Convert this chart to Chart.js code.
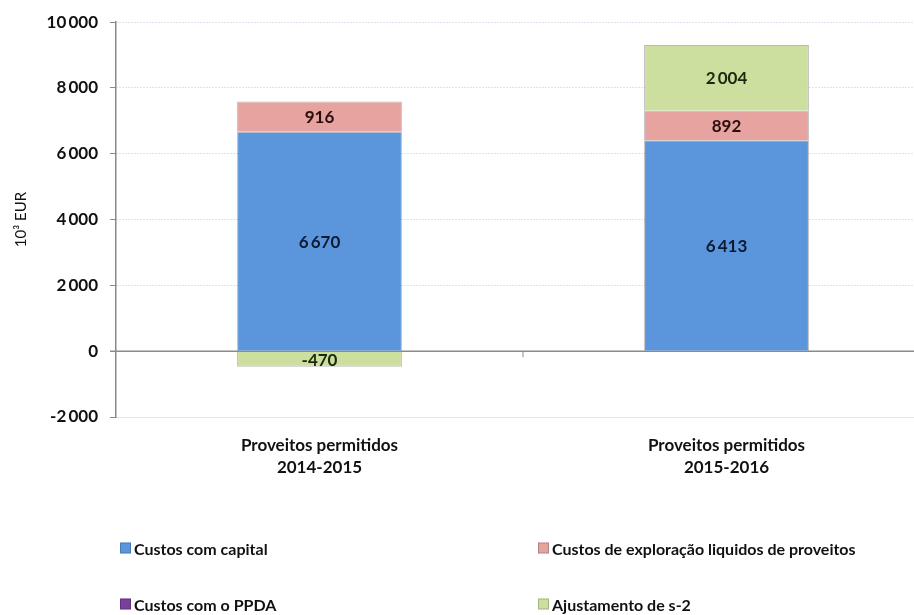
<!DOCTYPE html>
<html>
<head>
<meta charset="utf-8">
<script src="https://cdn.jsdelivr.net/npm/chart.js@4/dist/chart.umd.min.js"></script>
<style>
  html, body { margin: 0; padding: 0; background: #fff; overflow: hidden; width: 914px; height: 615px; }
  #wrap { position: relative; width: 930px; height: 615px; }
  #legend { position: absolute; left: 0; top: 0; width: 914px; height: 615px; pointer-events: none; }
  .li { position: absolute; display: flex; align-items: center; font-family: Lato, "Open Sans", sans-serif; font-weight: bold; font-size: 16px; color: #111; white-space: nowrap; transform: translateY(-50%); }
  .sw { width: 9px; height: 9px; margin-right: 3px; border: 1px solid rgba(0,0,0,0.2); }
</style>
</head>
<body>
<div id="wrap">
  <canvas id="c" width="930" height="615"></canvas>
  <div id="legend"></div>
</div>
<script>
const categories = [["Proveitos permitidos", "2014-2015"], ["Proveitos permitidos", "2015-2016"]];
const seriesNames = ["Custos com capital", "Custos de exploração liquidos de proveitos", "Custos com o PPDA", "Ajustamento de s-2"];
const custosCapital = [6670, 6413];
const custosExploracao = [916, 892];
const custosPPDA = [0, 0];
const ajustamento = [-470, 2004];
const yTicks = [-2000, 0, 2000, 4000, 6000, 8000, 10000];
const colors = ["#5b96dc", "#e6a3a0", "#7a3f9c", "#cddf9f"];
const labelColors = ["#0d1a33", "#2a0d0d", "#111", "#1a2a0d"];

function fmt(v) {
  const s = Math.abs(v).toString();
  const parts = s.replace(/\B(?=(\d{3})+(?!\d))/g, "\u2009");
  return (v < 0 ? "-" : "") + parts;
}

const seriesData = [custosCapital, custosExploracao, custosPPDA, ajustamento];
const datasets = seriesNames.map((n, i) => ({
  label: n,
  data: seriesData[i],
  backgroundColor: colors[i],
  borderColor: "rgba(60,60,60,0.35)",
  borderWidth: 1,
  barPercentage: 0.405,
  categoryPercentage: 1.0,
  stack: "s"
}));

const FONT = "Lato, 'Open Sans', sans-serif";

const extras = {
  id: "extras",
  beforeDatasetsDraw(chart) {
    const { ctx, chartArea, scales } = chart;
    const y0 = scales.y.getPixelForValue(0);
    ctx.save();
    ctx.strokeStyle = "#8a8a8a";
    ctx.lineWidth = 1.5;
    ctx.beginPath();
    ctx.moveTo(chartArea.left - 6, y0);
    ctx.lineTo(chartArea.right, y0);
    ctx.stroke();
    const xb = (scales.x.getPixelForValue(0) + scales.x.getPixelForValue(1)) / 2;
    ctx.lineWidth = 1;
    ctx.beginPath();
    ctx.moveTo(xb, y0);
    ctx.lineTo(xb, y0 + 6);
    ctx.stroke();
    ctx.restore();
  },
  afterDatasetsDraw(chart) {
    const { ctx } = chart;
    ctx.save();
    ctx.font = "bold 17px " + FONT;
    ctx.textAlign = "center";
    ctx.textBaseline = "middle";
    chart.data.datasets.forEach((ds, i) => {
      const meta = chart.getDatasetMeta(i);
      meta.data.forEach((bar, j) => {
        const v = ds.data[j];
        if (!v) return;
        const yc = (bar.y + bar.base) / 2;
        ctx.fillStyle = labelColors[i];
        ctx.fillText(fmt(v), bar.x, yc + 1);
      });
    });
    ctx.restore();
  }
};

const chart = new Chart(document.getElementById("c"), {
  type: "bar",
  data: { labels: categories, datasets },
  options: {
    responsive: false,
    animation: false,
    layout: { padding: { left: 8, right: 0, top: 12, bottom: 118 } },
    plugins: { legend: { display: false }, tooltip: { enabled: false } },
    scales: {
      x: {
        stacked: true,
        grid: { display: false },
        border: { display: true, color: "#e3e3e3" },
        ticks: {
          color: "#111",
          font: { family: FONT, size: 17, weight: "bold", lineHeight: 1.3 },
          padding: 9
        },
        afterFit(s) { s.height = 80; }
      },
      y: {
        stacked: true,
        min: -2000,
        max: 10000,
        afterBuildTicks(s) { s.ticks = yTicks.map(v => ({ value: v })); },
        grid: { color: "#bcc2dc", tickColor: "#8a8a8a", tickLength: 6, lineWidth: 1 },
        border: { display: true, color: "#8a8a8a", width: 1.5, dash: [1, 2] },
        ticks: {
          color: "#111",
          font: { family: FONT, size: 17, weight: "bold" },
          padding: 12,
          callback: v => fmt(v)
        },
        title: {
          display: true,
          text: "10³ EUR",
          color: "#111",
          font: { family: FONT, size: 15 },
          padding: { top: 4, bottom: 10 }
        },
        afterFit(s) { s.width = 108; }
      }
    }
  },
  plugins: [extras]
});

const legendPos = [[120, 548], [538, 548], [120, 604], [538, 604]];
const lg = document.getElementById("legend");
chart.data.datasets.forEach((ds, i) => {
  const d = document.createElement("div");
  d.className = "li";
  d.style.left = legendPos[i][0] + "px";
  d.style.top = legendPos[i][1] + "px";
  const sw = document.createElement("span");
  sw.className = "sw";
  sw.style.background = ds.backgroundColor;
  d.appendChild(sw);
  d.appendChild(document.createTextNode(ds.label));
  lg.appendChild(d);
});
</script>
</body>
</html>
